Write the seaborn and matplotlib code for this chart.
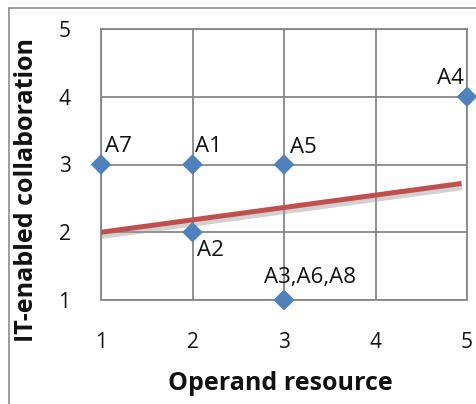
import matplotlib
matplotlib.use("Agg")
import matplotlib.pyplot as plt
import matplotlib.patheffects as pe
from matplotlib.lines import Line2D
import pandas as pd
import seaborn as sns

# Actors and their scores
actors = ["A1", "A2", "A3", "A4", "A5", "A6", "A7", "A8"]
operand_resource = [2, 2, 3, 5, 3, 3, 1, 3]
it_collaboration = [3, 2, 1, 4, 3, 1, 3, 1]

# Linear trend line end points
trend_x = [1.0, 4.94]
trend_y = [2.0, 2.72]

x_ticks = [1, 2, 3, 4, 5]
y_ticks = [1, 2, 3, 4, 5]

df = pd.DataFrame({"actor": actors, "x": operand_resource, "y": it_collaboration})
grouped = (df.groupby(["x", "y"], sort=False)["actor"]
             .apply(lambda s: ",".join(s)).reset_index())

sns.set_theme(style="white")
plt.rcParams["font.family"] = ["Open Sans", "DejaVu Sans"]

W, H = 476, 404
fig = plt.figure(figsize=(W / 100, H / 100), dpi=100)
ax = fig.add_axes([101 / W, 1 - 300 / H, 366 / W, 271 / H])

grid_col = "#868686"
blue = "#4f81bd"
red = "#c0504d"
txt = "#111111"

ax.set_xlim(1, 5)
ax.set_ylim(1, 5)
ax.set_xticks(x_ticks)
ax.set_yticks(y_ticks)
ax.grid(True, color=grid_col, linewidth=1.3)
for sp in ax.spines.values():
    sp.set_visible(True)
    sp.set_color(grid_col)
    sp.set_linewidth(1.3)
ax.tick_params(axis="x", length=0, pad=23, labelsize=15, colors=txt)
ax.tick_params(axis="y", length=0, pad=22, labelsize=15, colors=txt)

sns.lineplot(x=trend_x, y=trend_y, ax=ax, color=red, linewidth=3.6,
             solid_capstyle="butt", zorder=3,
             path_effects=[pe.SimpleLineShadow(offset=(0.5, -3), shadow_color="#9a9a9a", alpha=0.45),
                           pe.Normal()])

sns.scatterplot(data=df, x="x", y="y", ax=ax, marker="D", s=110, color=blue,
                edgecolor="none", zorder=4, clip_on=False, legend=False)

# label offsets (points) relative to each marker
offsets = {
    "A7": (3, 13, "left"),
    "A1": (1.5, 13, "left"),
    "A5": (4.5, 12, "left"),
    "A4": (-2.5, 13.5, "right"),
    "A2": (3, -13, "left"),
    "A3,A6,A8": (-14.5, 16, "left"),
}
for _, r in grouped.iterrows():
    dx, dy, ha = offsets[r["actor"]]
    ax.annotate(r["actor"], (r["x"], r["y"]), xytext=(dx, dy), textcoords="offset points",
                ha=ha, va="center", fontsize=16, color=txt, zorder=5)

ax.set_xlabel("Operand resource", fontsize=18, fontweight="bold", color=txt, va="center")
ax.set_ylabel("IT-enabled collaboration", fontsize=18, fontweight="bold", color=txt, va="center")
ax.xaxis.set_label_coords((280 - 101) / 366, -(383 - 300) / 271)
ax.yaxis.set_label_coords((27 - 101) / 366, (300 - 190) / 271)

# outer chart frame
fig.add_artist(Line2D([9 / W, 1.0], [1 - 8 / H, 1 - 8 / H], color="#8c8c8c", linewidth=1.2,
                      transform=fig.transFigure))
fig.add_artist(Line2D([9 / W, 9 / W], [0, 1 - 8 / H], color="#8c8c8c", linewidth=1.2,
                      transform=fig.transFigure))

fig.savefig("out.png", dpi=100)
